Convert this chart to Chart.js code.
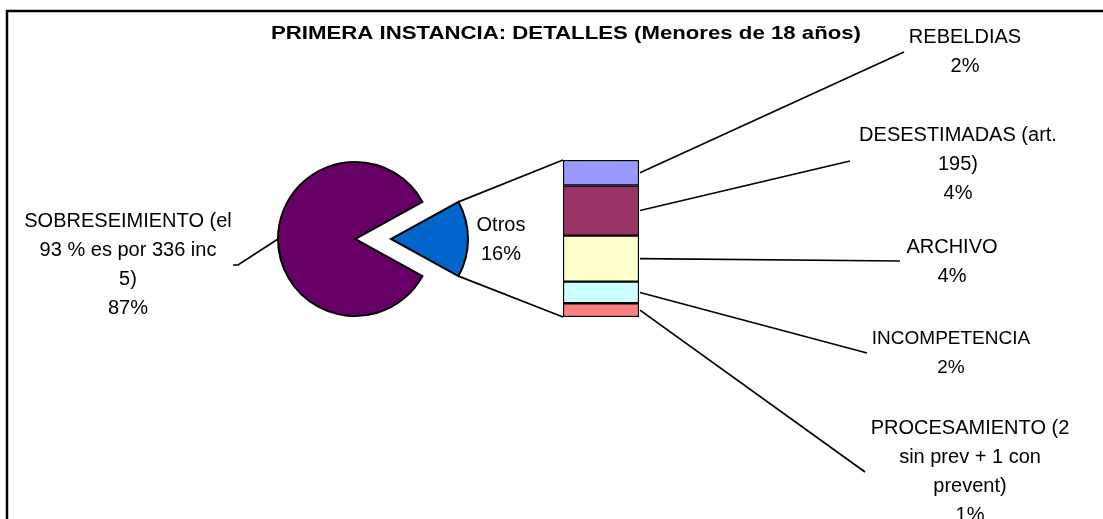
<!DOCTYPE html>
<html>
<head>
<meta charset="utf-8">
<script src="https://cdn.jsdelivr.net/npm/chart.js@4.4.1/dist/chart.umd.min.js"></script>
<style>
  body { margin: 0; background: #fff; }
  #wrap { position: relative; width: 1103px; height: 519px; overflow: hidden; }
  #wrap canvas { position: absolute; }
</style>
</head>
<body>
<div id="wrap">
  <canvas id="pieMain" width="220" height="220"></canvas>
  <canvas id="pieOtros" width="220" height="220"></canvas>
  <canvas id="barOtros" width="1103" height="519"></canvas>
</div>
<script>
const titulo = "PRIMERA INSTANCIA: DETALLES (Menores de 18 años)";

// torta principal: primero "Otros", despues sobreseimiento
const pieCategories = ["Otros", "SOBRESEIMIENTO (el 93 % es por 336 inc 5)"];
const pieValues = [16, 84];
const pieColors = ["#0066CC", "#660066"];
const pieLabelLines = [
  ["Otros", "16%"],
  ["SOBRESEIMIENTO (el", "93 % es por 336 inc", "5)", "87%"]
];

// barra de "Otros", de arriba hacia abajo
const barCategories = ["REBELDIAS", "DESESTIMADAS (art. 195)", "ARCHIVO", "INCOMPETENCIA", "PROCESAMIENTO (2 sin prev + 1 con prevent)"];
const barValues = [2.6, 5.1, 4.7, 2.2, 1.4];
const barColors = ["#9999FF", "#993366", "#FFFFCC", "#CCFFFF", "#FF8080"];
const barLabelLines = [
  ["REBELDIAS", "2%"],
  ["DESESTIMADAS (art.", "195)", "4%"],
  ["ARCHIVO", "4%"],
  ["INCOMPETENCIA", "2%"],
  ["PROCESAMIENTO (2", "sin prev + 1 con", "prevent)", "1%"]
];

// posicion de las etiquetas: centro x, y de la primera linea, fin de la guia
const barLabelPos = [
  { x: 965, y: 37, ex: 904, ey: 52 },
  { x: 958, y: 135, ex: 850, ey: 161 },
  { x: 952, y: 247, ex: 900, ey: 261 },
  { x: 951, y: 339, ex: 867, ey: 353 },
  { x: 970, y: 428, ex: 865, ey: 472 }
];
const sobrePos = { x: 128, y: 221, ex: 238, ey: 265 };
const otrosPos = { x: 501, y: 225 };

const FONT = "'Liberation Sans', Arial, sans-serif";
const LINE_H = 29;
const RADIUS = 77;
const mainCenter = { x: 355, y: 239 };
const otrosCenter = { x: 391, y: 239 };

const total = pieValues.reduce((a, b) => a + b, 0);
const otrosAngle = (pieValues[0] / total) * 360;
const rotacion = 90 - otrosAngle / 2;

function placeCanvas(id, center) {
  const c = document.getElementById(id);
  c.style.left = center.x - c.width / 2 + "px";
  c.style.top = center.y - c.height / 2 + "px";
  return c;
}

function pieConfig(visible) {
  return {
    type: "pie",
    data: {
      labels: pieCategories,
      datasets: [{
        data: pieValues,
        backgroundColor: pieColors.map((c, i) => (i === visible ? c : "rgba(0,0,0,0)")),
        borderColor: "#000",
        borderWidth: pieValues.map((v, i) => (i === visible ? 2 : 0)),
        borderJoinStyle: "miter"
      }]
    },
    options: {
      responsive: false,
      animation: false,
      rotation: rotacion,
      radius: RADIUS,
      plugins: { legend: { display: false }, tooltip: { enabled: false } }
    }
  };
}

const chartMain = new Chart(placeCanvas("pieMain", mainCenter), pieConfig(1));
const chartOtros = new Chart(placeCanvas("pieOtros", otrosCenter), pieConfig(0));

function drawLines(ctx, lines, x, y) {
  lines.forEach((t, i) => ctx.fillText(t, x, y + i * LINE_H));
}

function arcPoint(chart, center, index, angleKey) {
  const arc = chart.getDatasetMeta(0).data[index];
  const a = angleKey === "mid" ? (arc.startAngle + arc.endAngle) / 2 : arc[angleKey];
  return {
    x: center.x + Math.cos(a) * arc.outerRadius,
    y: center.y + Math.sin(a) * arc.outerRadius
  };
}

const extras = {
  id: "extras",
  afterDraw(chart) {
    const ctx = chart.ctx;
    const metas = barCategories.map((c, i) => chart.getDatasetMeta(i).data[0]);
    const first = metas[0];
    const last = metas[metas.length - 1];
    const left = first.x - first.width / 2;
    const right = first.x + first.width / 2;
    const top = Math.min(first.y, first.base);
    const bottom = Math.max(last.y, last.base);

    ctx.save();
    // marco
    ctx.strokeStyle = "#000";
    ctx.lineWidth = 2.5;
    ctx.strokeRect(7, 11, 1300, 700);

    ctx.lineWidth = 1.7;
    // union torta - barra
    const p1 = arcPoint(chartOtros, otrosCenter, 0, "startAngle");
    const p2 = arcPoint(chartOtros, otrosCenter, 0, "endAngle");
    ctx.beginPath();
    ctx.moveTo(p1.x, p1.y); ctx.lineTo(left, top);
    ctx.moveTo(p2.x, p2.y); ctx.lineTo(left, bottom);
    ctx.stroke();

    // guias de la barra
    metas.forEach((m, i) => {
      const pos = barLabelPos[i];
      ctx.beginPath();
      ctx.moveTo(right + 1, (m.y + m.base) / 2);
      ctx.lineTo(pos.ex, pos.ey);
      ctx.stroke();
    });

    // guia sobreseimiento
    const pm = arcPoint(chartMain, mainCenter, 1, "mid");
    ctx.beginPath();
    ctx.moveTo(sobrePos.ex - 5, sobrePos.ey);
    ctx.lineTo(sobrePos.ex, sobrePos.ey);
    ctx.lineTo(pm.x, pm.y);
    ctx.stroke();

    // textos
    ctx.fillStyle = "#000";
    ctx.textAlign = "center";
    ctx.textBaseline = "middle";
    ctx.save();
    ctx.translate(566, 34);
    ctx.scale(1.2, 1);
    ctx.font = "bold 18.5px " + FONT;
    ctx.fillText(titulo, 0, 0);
    ctx.restore();

    ctx.font = "20px " + FONT;
    barLabelLines.forEach((lines, i) => {
      ctx.font = (i === 3 ? "19px " : "20px ") + FONT;
      drawLines(ctx, lines, barLabelPos[i].x, barLabelPos[i].y);
    });
    ctx.font = "20px " + FONT;
    drawLines(ctx, pieLabelLines[1], sobrePos.x, sobrePos.y);
    drawLines(ctx, pieLabelLines[0], otrosPos.x, otrosPos.y);
    ctx.restore();
  }
};

const barSum = barValues.reduce((a, b) => a + b, 0);

new Chart(document.getElementById("barOtros"), {
  type: "bar",
  data: {
    labels: [""],
    datasets: barCategories.map((c, i) => ({
      label: c,
      data: [barValues[i]],
      backgroundColor: barColors[i],
      borderColor: "#000",
      borderWidth: 1.5,
      borderSkipped: false,
      barPercentage: 1,
      categoryPercentage: 1
    }))
  },
  options: {
    responsive: false,
    animation: false,
    layout: { padding: { left: 563, right: 464, top: 160, bottom: 202 } },
    scales: {
      x: { display: false, stacked: true },
      y: { display: false, stacked: true, reverse: true, min: 0, max: barSum }
    },
    plugins: { legend: { display: false }, tooltip: { enabled: false } }
  },
  plugins: [extras]
});
</script>
</body>
</html>
